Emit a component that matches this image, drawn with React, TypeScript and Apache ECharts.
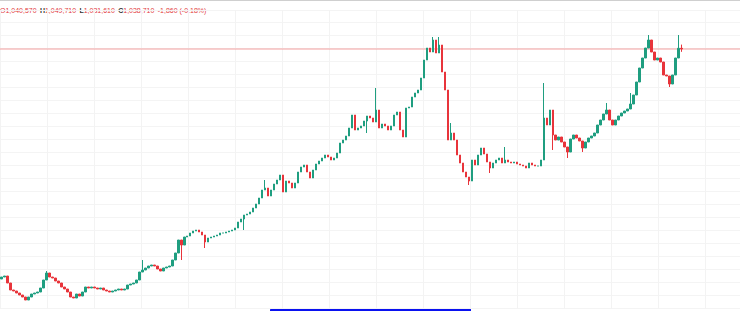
import React, { useEffect, useRef } from "react";
import * as echarts from "echarts";

// closing prices, one per candle (oldest first)
const closes: number[] = [
  468710, 471210, 453710, 436210, 433710, 428710, 423710, 418710, 411210, 418710,
  426210, 428710, 431210, 441210, 461210, 478710, 468710, 466210, 458710, 453710,
  443710, 438710, 431210, 418710, 416210, 426210, 421210, 431210, 443710, 441210,
  443710, 441210, 438710, 441210, 436210, 433710, 431210, 433710, 436210, 438710,
  436210, 438710, 448710, 451210, 453710, 461210, 481210, 486210, 491210, 496210,
  498710, 496210, 488710, 483710, 491210, 493710, 496210, 511210, 528710, 561210,
  548710, 568710, 571210, 578710, 583710, 586210, 581210, 573710, 556210, 566210,
  568710, 571210, 573710, 578710, 578710, 581210, 583710, 586210, 591210, 606210,
  613710, 623710, 626210, 631210, 641210, 651210, 666210, 686210, 691210, 671210,
  686210, 701210, 711210, 723710, 681210, 708710, 703710, 691210, 703710, 731210,
  743710, 748710, 731210, 716210, 736210, 751210, 758710, 766210, 773710, 768710,
  761210, 766210, 778710, 803710, 811210, 821210, 841210, 873710, 836210, 841210,
  846210, 858710, 871210, 866210, 856210, 886210, 841210, 851210, 846210, 836210,
  846210, 873710, 881210, 836210, 818710, 891210, 893710, 918710, 928710, 936210,
  966210, 1011210, 1041210, 1031210, 1061210, 1028710, 1048710, 981210, 936210, 811210,
  828710, 811210, 773710, 753710, 731210, 718710, 708710, 761210, 748710, 773710,
  791210, 776210, 756210, 741210, 753710, 761210, 766210, 753710, 761210, 756210,
  753710, 756210, 751210, 748710, 746210, 741210, 753710, 748710, 746210, 746210,
  761210, 866210, 848710, 886210, 823710, 811210, 818710, 806210, 793710, 781210,
  813710, 823710, 816210, 808710, 791210, 806210, 816210, 821210, 828710, 848710,
  861210, 876210, 886210, 861210, 848710, 861210, 871210, 878710, 883710, 888710,
  901210, 923710, 956210, 991210, 1016210, 1041210, 1061210, 1031210, 1011210, 1016210,
  1006210, 973710, 971210, 951210, 973710, 1016210, 1040570, 1038710,
];
const firstOpen = 463710;

// notable wick extremes: [candle index, price]
const highWicks: [number, number][] = [
  [15, 483710], [47, 511210], [88, 711210], [125, 941210], [144, 1068710],
  [146, 1068710], [150, 853710], [168, 793710], [181, 953710], [202, 903710],
  [210, 928710], [216, 1073710], [226, 1073710], [227, 1049710],
];
const lowWicks: [number, number][] = [
  [60, 511210], [68, 541210], [81, 586210], [122, 828710], [156, 698710],
  [163, 728710], [184, 786210], [189, 766210], [194, 781210], [223, 943710],
  [227, 1031610],
];

const lastOpen = 1040570;
const lastHigh = 1049710;
const lastLow = 1031610;
const lastClose = 1038710;
const changeText = "-1,860 (-0.18%)";

const categoryCount = 247;

const fmt = (v: number) => v.toLocaleString("en-US");

export default function App() {
  const ref = useRef<HTMLDivElement>(null);
  useEffect(() => {
    if (!ref.current) return;
    const chart = echarts.init(ref.current, undefined, { renderer: "svg" });
    const hi = new Map(highWicks);
    const lo = new Map(lowWicks);
    const data = closes.map((c, i) => {
      const o = i === 0 ? firstOpen : closes[i - 1];
      const h = Math.max(o, c, hi.get(i) ?? -Infinity);
      const l = Math.min(o, c, lo.get(i) ?? Infinity);
      return [o, c, l, h];
    });
    const cats = Array.from({ length: categoryCount }, (_, i) => String(i));
    const up = "#1f9e80";
    const down = "#e8343b";
    const font = "'Liberation Sans Narrow', 'Liberation Sans', Arial, sans-serif";
    chart.setOption({
      animation: false,
      backgroundColor: "#ffffff",
      grid: { left: 0, right: 0, top: 10, bottom: 2.5 },
      xAxis: [
        {
          type: "category",
          data: cats,
          axisLine: { show: false },
          axisTick: { show: false },
          axisLabel: { show: false },
          splitLine: { show: false },
        },
        {
          type: "value",
          min: 0,
          max: 740,
          interval: 47,
          position: "top",
          axisLine: { show: false },
          axisTick: { show: false },
          axisLabel: { show: false },
          splitLine: { show: true, lineStyle: { color: "#f3f3f3", width: 1 } },
        },
      ],
      yAxis: {
        type: "value",
        min: 390000,
        max: 1136210,
        interval: 32500,
        axisLine: { show: false },
        axisTick: { show: false },
        axisLabel: { show: false },
        splitLine: { show: true, lineStyle: { color: "#f4f4f4", width: 1 } },
      },
      series: [
        {
          type: "line",
          xAxisIndex: 1,
          data: [
            [0, lastClose],
            [740, lastClose],
          ],
          symbol: "none",
          silent: true,
          lineStyle: { color: "#f4a0a0", width: 1, type: "solid" },
          z: 1,
        },
        {
          type: "candlestick",
          xAxisIndex: 0,
          data,
          barWidth: 2,
          z: 2,
          itemStyle: {
            color: up,
            color0: down,
            borderColor: up,
            borderColor0: down,
            borderWidth: 1,
          },
        },
      ],
      graphic: [
        {
          type: "rect",
          left: 0,
          top: 0,
          shape: { width: 740, height: 1 },
          style: { fill: "#cfcfcf" },
        },
        {
          type: "text",
          left: 0,
          top: 4,
          style: {
            text:
              `{v|O${fmt(lastOpen)}} {k|H}{v|${fmt(lastHigh)}} {k|L}{v|${fmt(lastLow)}} ` +
              `{k|C}{v|${fmt(lastClose)}} {v|${changeText}}`,
            rich: {
              k: { fill: "#333333", fontSize: 7, fontFamily: font, fontWeight: "bold" },
              v: { fill: "#e23a40", fontSize: 7, fontFamily: font },
            },
          },
        },
        {
          type: "rect",
          left: 270,
          top: 308,
          shape: { width: 201, height: 3, r: [2, 0, 0, 0] },
          style: { fill: "#0a12f0" },
        },
      ],
    });
    return () => chart.dispose();
  }, []);
  return (
    <div
      ref={ref}
      style={{ position: "fixed", left: 0, top: 0, width: 740, height: 311 }}
    />
  );
}
